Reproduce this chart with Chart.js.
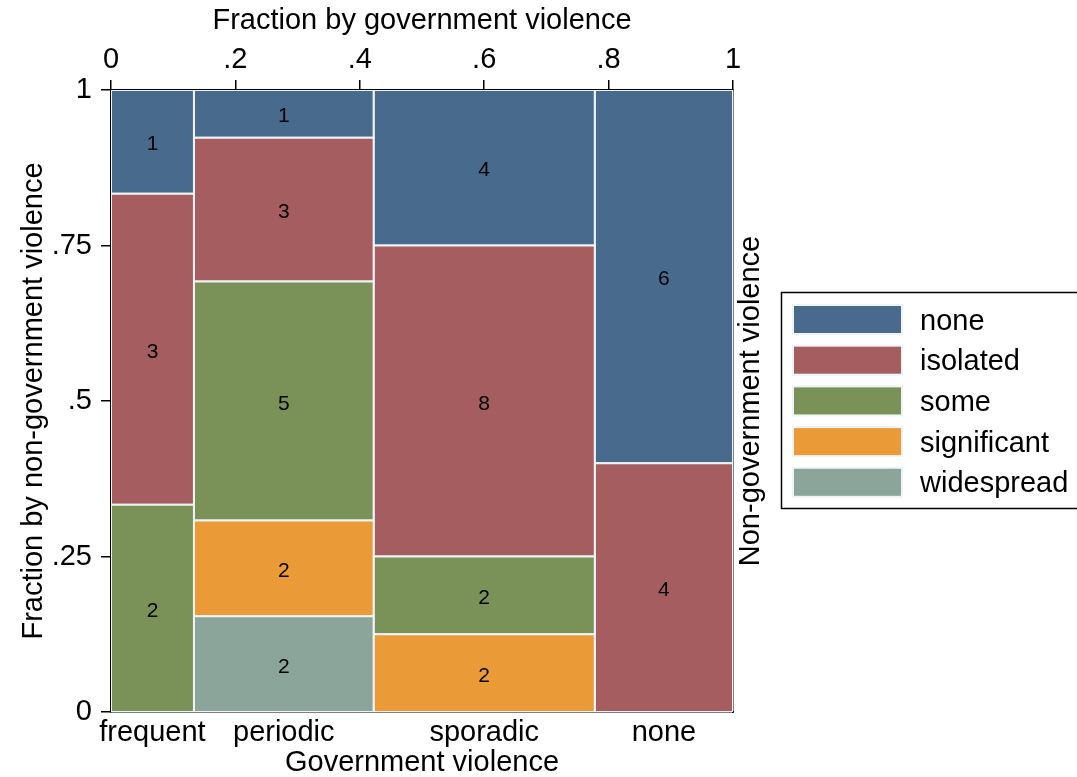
<!DOCTYPE html>
<html><head><meta charset="utf-8">
<script src="https://cdn.jsdelivr.net/npm/chart.js@4.4.0/dist/chart.umd.min.js"></script>
<style>html,body{margin:0;padding:0;background:#fff;} canvas{display:block}</style>
</head><body>
<canvas id="c" width="1077" height="777"></canvas>
<script>
const govCategories = ['frequent', 'periodic', 'sporadic', 'none'];
const nonGovCategories = ['none', 'isolated', 'some', 'significant', 'widespread'];
// counts by non-government violence level, in the order of nonGovCategories
const countsFrequent = [1, 3, 2, 0, 0];
const countsPeriodic = [1, 3, 5, 2, 2];
const countsSporadic = [4, 8, 2, 2, 0];
const countsNone = [6, 4, 0, 0, 0];
const topTickValues = [0, 0.2, 0.4, 0.6, 0.8, 1];
const topTickLabels = ['0', '.2', '.4', '.6', '.8', '1'];
const leftTickValues = [0, 0.25, 0.5, 0.75, 1];
const leftTickLabels = ['0', '.25', '.5', '.75', '1'];
const colors = ['#486a8c', '#a55d60', '#7a9157', '#ea9a36', '#8ca59b'];

const FONT = "'Liberation Sans', Arial, Helvetica, sans-serif";
const allCounts = [countsFrequent, countsPeriodic, countsSporadic, countsNone];
const grand = allCounts.reduce((a, c) => a + c.reduce((p, q) => p + q, 0), 0);

const datasets = [];
const cellLabels = [];
const midpoints = [];
let cum = 0;
allCounts.forEach((col, i) => {
  const colTotal = col.reduce((p, q) => p + q, 0);
  const x0 = cum / grand;
  const x1 = (cum + colTotal) / grand;
  midpoints.push((x0 + x1) / 2);
  cum += colTotal;
  let ycum = 0;
  for (let k = col.length - 1; k >= 0; k--) {
    const c = col[k];
    if (c <= 0) continue;
    const y0 = ycum / colTotal;
    const y1 = (ycum + c) / colTotal;
    ycum += c;
    datasets.push({
      label: govCategories[i] + ' / ' + nonGovCategories[k],
      data: [{x: x0, y: y0}, {x: x1, y: y0}, {x: x1, y: y1}, {x: x0, y: y1}, {x: x0, y: y0}],
      showLine: true,
      fill: 'shape',
      backgroundColor: colors[k],
      borderColor: '#eef3f6',
      borderWidth: 2,
      pointRadius: 0,
      tension: 0,
      xAxisID: 'x',
      yAxisID: 'y'
    });
    cellLabels.push({x: (x0 + x1) / 2, y: (y0 + y1) / 2, text: String(c)});
  }
});

const extras = {
  id: 'extras',
  afterDraw(chart) {
    const ctx = chart.ctx;
    const xs = chart.scales.x, ys = chart.scales.y;
    ctx.save();
    ctx.fillStyle = '#000';
    ctx.font = '21px ' + FONT;
    ctx.textAlign = 'center';
    ctx.textBaseline = 'alphabetic';
    cellLabels.forEach(l => {
      ctx.fillText(l.text, xs.getPixelForValue(l.x), ys.getPixelForValue(l.y) + 8.5);
    });
    // right axis title (reads bottom to top)
    ctx.font = '29px ' + FONT;
    ctx.textBaseline = 'middle';
    ctx.translate(751, (chart.chartArea.top + chart.chartArea.bottom) / 2);
    ctx.rotate(-Math.PI / 2);
    ctx.fillText('Non-government violence', 0, 0);
    ctx.restore();
    // legend
    ctx.save();
    ctx.strokeStyle = '#000';
    ctx.lineWidth = 1.5;
    ctx.strokeRect(781.5, 292.5, 320, 216);
    ctx.font = '29px ' + FONT;
    ctx.textAlign = 'left';
    ctx.textBaseline = 'middle';
    nonGovCategories.forEach((name, k) => {
      const y = 306 + k * 40.7;
      ctx.fillStyle = '#eef3f6';
      ctx.fillRect(792, y - 2, 111, 31);
      ctx.fillStyle = colors[k];
      ctx.fillRect(794, y, 107, 27);
      ctx.fillStyle = '#000';
      ctx.fillText(name, 920, y + 15.5);
    });
    ctx.restore();
  }
};

const axisBorder = {display: true, color: '#000', width: 1.5};
const tickFont = {family: FONT, size: 29};
const titleFont = {family: FONT, size: 29, lineHeight: 1.0};

new Chart(document.getElementById('c'), {
  type: 'scatter',
  data: {datasets},
  options: {
    responsive: false,
    animation: false,
    events: [],
    layout: {padding: {left: 0, top: 0, bottom: 0, right: 304}},
    plugins: {legend: {display: false}, tooltip: {enabled: false}},
    scales: {
      x: {
        type: 'linear', position: 'top', min: 0, max: 1, z: 1,
        afterBuildTicks: s => { s.ticks = topTickValues.map(v => ({value: v})); },
        afterFit: s => { s.height = 90; },
        ticks: {callback: (v, i) => topTickLabels[i], font: tickFont, color: '#000', padding: 3, autoSkip: false, maxRotation: 0},
        grid: {drawOnChartArea: false, drawTicks: true, tickLength: 10, color: '#000', lineWidth: 1.5},
        border: axisBorder,
        title: {display: true, text: 'Fraction by government violence', font: titleFont, color: '#000', padding: {top: 6, bottom: 0}}
      },
      xb: {
        type: 'linear', position: 'bottom', min: 0, max: 1, z: 1,
        afterBuildTicks: s => { s.ticks = midpoints.map(v => ({value: v})); },
        afterFit: s => { s.height = 65; },
        ticks: {callback: (v, i) => govCategories[i], font: tickFont, color: '#000', padding: 4, autoSkip: false, maxRotation: 0},
        grid: {drawOnChartArea: false, drawTicks: false, display: true},
        border: axisBorder,
        title: {display: true, text: 'Government violence', font: titleFont, color: '#000', padding: {top: 0, bottom: 0}}
      },
      y: {
        type: 'linear', position: 'left', min: 0, max: 1, z: 1,
        afterBuildTicks: s => { s.ticks = leftTickValues.map(v => ({value: v})); },
        afterFit: s => { s.width = 111; },
        ticks: {callback: (v, i) => leftTickLabels[i], font: tickFont, color: '#000', padding: 9, autoSkip: false},
        grid: {drawOnChartArea: false, drawTicks: true, tickLength: 10, color: '#000', lineWidth: 1.5},
        border: axisBorder,
        title: {display: true, text: 'Fraction by non-government violence', font: titleFont, color: '#000', padding: {top: 19, bottom: 0}}
      },
      yr: {
        type: 'linear', position: 'right', min: 0, max: 1, z: 1,
        afterFit: s => { s.width = 40; },
        ticks: {display: false},
        grid: {drawOnChartArea: false, drawTicks: false},
        border: axisBorder
      }
    }
  },
  plugins: [extras]
});
</script>
</body></html>
